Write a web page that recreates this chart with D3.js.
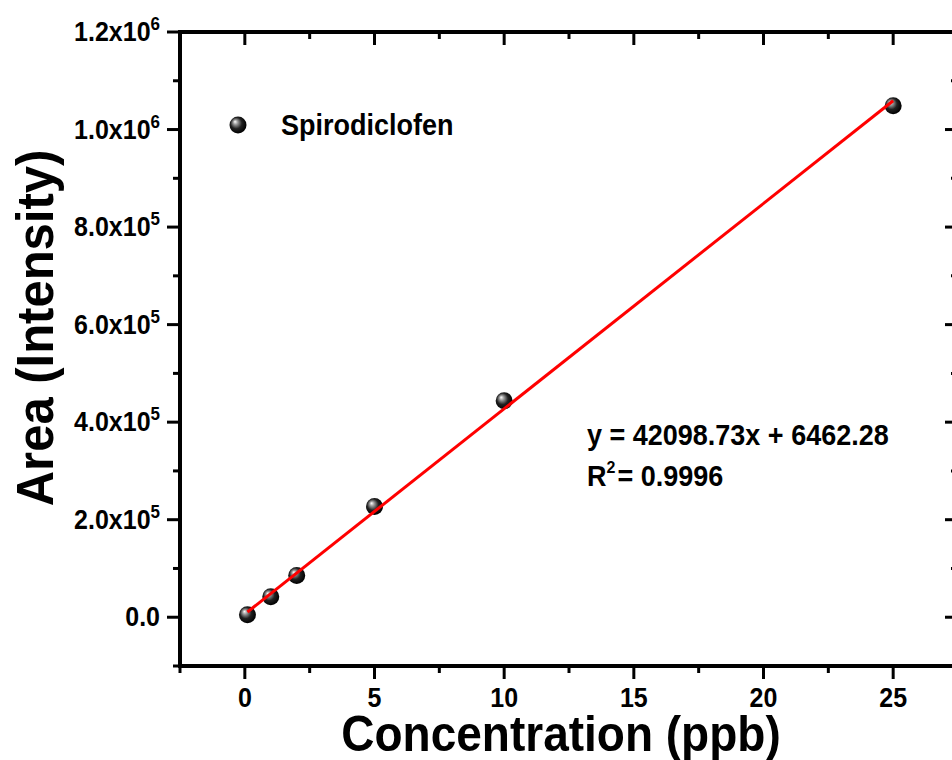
<!DOCTYPE html>
<html>
<head>
<meta charset="utf-8">
<script src="https://cdn.jsdelivr.net/npm/d3@7"></script>
<style>
  body { margin: 0; background: #fff; }
  text { font-family: "Liberation Sans", Arial, sans-serif; font-weight: bold; fill: #000; }
</style>
</head>
<body>
<div id="chart"></div>
<script>
// data
const concentration = [0.1, 1, 2, 5, 10, 25];
const area = [5000, 42000, 85500, 227000, 444000, 1049000];
const slope = 42098.73, intercept = 6462.28;
const xMajor = [0, 5, 10, 15, 20, 25];
const xMinor = [-2.5, 2.5, 7.5, 12.5, 17.5, 22.5, 27.5];
const yMajor = [0, 200000, 400000, 600000, 800000, 1000000, 1200000];
const yMinor = [-100000, 100000, 300000, 500000, 700000, 900000, 1100000];
const seriesName = "Spirodiclofen";

const W = 952, H = 760;
const svg = d3.select("#chart").append("svg")
  .attr("width", W).attr("height", H);

const x = d3.scaleLinear().domain([-2.5, 27.5]).range([180, 958]);
const y = d3.scaleLinear().domain([-100000, 1200000]).range([666, 32]);

// sphere gradient
const grad = svg.append("defs").append("radialGradient")
  .attr("id", "ball").attr("cx", "45%").attr("cy", "45%").attr("r", "55%")
  .attr("fx", "32%").attr("fy", "30%");
grad.append("stop").attr("offset", "0%").attr("stop-color", "#fff");
grad.append("stop").attr("offset", "25%").attr("stop-color", "#999");
grad.append("stop").attr("offset", "60%").attr("stop-color", "#222");
grad.append("stop").attr("offset", "100%").attr("stop-color", "#000");

// frame
const [x0, x1] = x.range(), [y0, y1] = y.range();
svg.append("rect")
  .attr("x", x0).attr("y", y1).attr("width", x1 - x0).attr("height", y0 - y1)
  .attr("fill", "none").attr("stroke", "#000").attr("stroke-width", 4);

// ticks
const tk = svg.append("g").attr("stroke", "#000").attr("stroke-width", 3);
function ticks(vals, len) {
  vals.forEach(v => {
    const px = x(v);
    tk.append("line").attr("x1", px).attr("x2", px).attr("y1", y0).attr("y2", y0 + len);
    tk.append("line").attr("x1", px).attr("x2", px).attr("y1", y1).attr("y2", y1 + len);
  });
}
function yticks(vals, len) {
  vals.forEach(v => {
    const py = y(v);
    tk.append("line").attr("x1", x0).attr("x2", x0 - len).attr("y1", py).attr("y2", py);
    tk.append("line").attr("x1", x1).attr("x2", x1 - len).attr("y1", py).attr("y2", py);
  });
}
ticks(xMajor, 13); ticks(xMinor, 7);
yticks(yMajor, 13); yticks(yMinor, 7);

// x tick labels
svg.append("g").selectAll("text").data(xMajor).join("text")
  .attr("transform", d => `translate(${x(d)},707) scale(1,1.1)`)
  .attr("text-anchor", "middle").attr("font-size", 25)
  .text(d => d);

// y tick labels
const yl = svg.append("g").selectAll("text").data(yMajor).join("text")
  .attr("transform", d => `translate(160,${y(d) + 9}) scale(1,1.1)`)
  .attr("text-anchor", "end").attr("font-size", 25);
yl.each(function (d) {
  const t = d3.select(this);
  if (d === 0) { t.text("0.0"); return; }
  const e = Math.floor(Math.log10(d));
  t.append("tspan").text((d / Math.pow(10, e)).toFixed(1) + "x10");
  t.append("tspan").attr("font-size", 17).attr("dy", -10).text(e);
});

// axis titles
svg.append("text")
  .attr("transform", "translate(561,751) scale(1,1.1)")
  .attr("text-anchor", "middle").attr("font-size", 46)
  .text("Concentration (ppb)");
svg.append("text")
  .attr("transform", "translate(53,328) rotate(-90) scale(1,1.05)")
  .attr("text-anchor", "middle").attr("font-size", 49)
  .text("Area (Intensity)");

// points
const pts = concentration.map((c, i) => [c, area[i]]);
svg.append("g").selectAll("circle").data(pts).join("circle")
  .attr("cx", d => x(d[0])).attr("cy", d => y(d[1])).attr("r", 8.5)
  .attr("fill", "url(#ball)");

// fit line
const xs = d3.extent(concentration);
svg.append("line")
  .attr("x1", x(xs[0])).attr("y1", y(slope * xs[0] + intercept))
  .attr("x2", x(xs[1])).attr("y2", y(slope * xs[1] + intercept))
  .attr("stroke", "#ff0000").attr("stroke-width", 3);

// legend
svg.append("circle").attr("cx", 238).attr("cy", 125).attr("r", 8.5).attr("fill", "url(#ball)");
svg.append("text").attr("transform", "translate(281,135) scale(1,1.08)")
  .attr("font-size", 27).text(seriesName);

// equation
svg.append("text").attr("transform", "translate(587,445) scale(1,1.08)")
  .attr("font-size", 27)
  .text("y = " + slope.toFixed(2) + "x + " + intercept.toFixed(2));
const r2 = svg.append("text").attr("transform", "translate(587,486) scale(1,1.08)")
  .attr("font-size", 27);
r2.append("tspan").text("R");
r2.append("tspan").attr("font-size", 16).attr("dy", -12).text("2");
r2.append("tspan").attr("dy", 12).attr("dx", 2).text("= 0.9996");
</script>
</body>
</html>
